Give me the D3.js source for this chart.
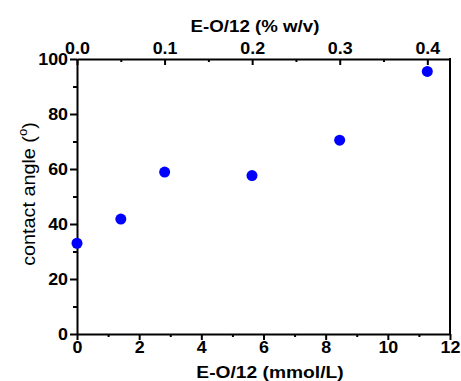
<!DOCTYPE html>
<html>
<head>
<meta charset="utf-8">
<script src="https://cdn.jsdelivr.net/npm/d3@7"></script>
<style>
  body { margin: 0; background: #fff; }
  text { font-family: "Liberation Sans", Arial, sans-serif; }
</style>
</head>
<body>
<div id="chart"></div>
<script>
// data
const concMmol = [0, 1.41, 2.82, 5.63, 8.45, 11.27];
const contactAngle = [33, 41.8, 58.9, 57.6, 70.5, 95.5];
const bottomTicks = [0, 2, 4, 6, 8, 10, 12];
const topTicks = [0.0, 0.1, 0.2, 0.3, 0.4];
const leftTicks = [0, 20, 40, 60, 80, 100];

const width = 461, height = 381;
const margin = { top: 59, right: 11, bottom: 47, left: 77 };

const svg = d3.select('#chart')
    .append('svg')
    .attr('width', width)
    .attr('height', height);

const x = d3.scaleLinear()
    .domain([0, 12])
    .range([margin.left, width - margin.right]);

// 0.4 % w/v corresponds to ~11.27 mmol/L
const xTop = d3.scaleLinear()
    .domain([0, 0.4 * 12 / 11.27])
    .range([margin.left, width - margin.right]);

const y = d3.scaleLinear()
    .domain([0, 100])
    .range([height - margin.bottom, margin.top]);

// the original lettering is a bit wider than Arial
function stretch(sel, k) {
    sel.each(function () {
        const len = this.getComputedTextLength();
        d3.select(this)
            .attr('textLength', len * k)
            .attr('lengthAdjust', 'spacingAndGlyphs');
    });
}

const tickFont = g => g.selectAll('text')
    .attr('font-size', '17px')
    .attr('font-weight', 'bold')
    .attr('fill', '#000')
    .call(stretch, 1.05);

// minor ticks
function minor(g, ticks, axis) {
    g.call(axis.tickValues(ticks).tickFormat('').tickSizeOuter(0));
    g.select('.domain').remove();
    g.selectAll('line').attr('stroke', '#000').attr('stroke-width', 2);
}

// bottom axis
svg.append('g')
    .attr('transform', `translate(0,${height - margin.bottom})`)
    .call(g => minor(g, d3.range(1, 12, 2), d3.axisBottom(x).tickSize(3)));
svg.append('g')
    .attr('transform', `translate(0,${height - margin.bottom})`)
    .call(d3.axisBottom(x).tickValues(bottomTicks).tickSize(6).tickSizeOuter(0).tickPadding(1))
    .call(tickFont)
    .call(g => g.selectAll('line,path').attr('stroke', '#000').attr('stroke-width', 2));

// top axis (ticks inward)
svg.append('g')
    .attr('transform', `translate(0,${margin.top})`)
    .call(g => minor(g, [0.05, 0.15, 0.25, 0.35], d3.axisBottom(xTop).tickSize(3)));
svg.append('g')
    .attr('transform', `translate(0,${margin.top})`)
    .call(d3.axisTop(xTop).tickValues(topTicks).tickFormat(d3.format('.1f')).tickSize(0).tickSizeOuter(0).tickPadding(5))
    .call(tickFont)
    .call(g => g.selectAll('path').attr('stroke', '#000').attr('stroke-width', 2));
svg.append('g')
    .attr('transform', `translate(0,${margin.top})`)
    .call(g => minor(g, topTicks, d3.axisBottom(xTop).tickSize(6)));

// left axis
svg.append('g')
    .attr('transform', `translate(${margin.left},0)`)
    .call(g => minor(g, d3.range(10, 100, 20), d3.axisLeft(y).tickSize(4)));
svg.append('g')
    .attr('transform', `translate(${margin.left},0)`)
    .call(d3.axisLeft(y).tickValues(leftTicks).tickSize(7).tickSizeOuter(0).tickPadding(2))
    .call(tickFont)
    .call(g => g.selectAll('line,path').attr('stroke', '#000').attr('stroke-width', 2));

// right edge
svg.append('line')
    .attr('x1', width - margin.right).attr('x2', width - margin.right)
    .attr('y1', margin.top - 1).attr('y2', height - margin.bottom + 1)
    .attr('stroke', '#000').attr('stroke-width', 2);

// points
svg.append('g')
    .selectAll('circle')
    .data(concMmol)
    .join('circle')
    .attr('cx', d => x(d))
    .attr('cy', (d, i) => y(contactAngle[i]))
    .attr('r', 5.5)
    .attr('fill', '#0000ff');

// axis titles
svg.append('text')
    .attr('x', 255)
    .attr('y', 32)
    .attr('text-anchor', 'middle')
    .attr('font-size', '17px')
    .attr('font-weight', 'bold')
    .text('E-O/12 (% w/v)')
    .call(stretch, 1.1);

svg.append('text')
    .attr('x', 270)
    .attr('y', 378)
    .attr('text-anchor', 'middle')
    .attr('font-size', '17px')
    .attr('font-weight', 'bold')
    .text('E-O/12 (mmol/L)')
    .call(stretch, 1.13);

const yt = svg.append('text')
    .attr('transform', `translate(35,194) rotate(-90) scale(1.1,1)`)
    .attr('text-anchor', 'middle')
    .attr('font-size', '18px');
yt.append('tspan').text('contact angle (');
yt.append('tspan').attr('font-size', '12px').attr('dy', -8).text('o');
yt.append('tspan').attr('dy', 8).text(')');
</script>
</body>
</html>
